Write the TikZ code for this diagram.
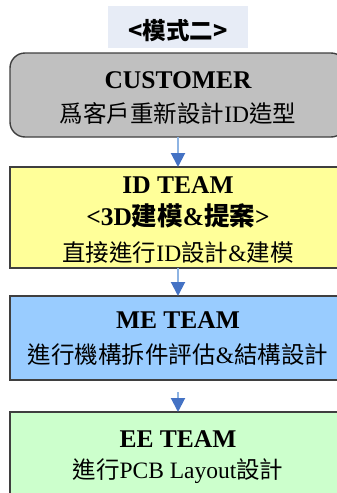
\documentclass[tikz,border=0pt]{standalone}
\usepackage{fontspec}
\setmainfont{Liberation Serif}
\newfontfamily\cjk{Noto Sans CJK TC}
\usetikzlibrary{arrows.meta}
\definecolor{titlebg}{HTML}{E7ECF6}
\definecolor{custfill}{HTML}{C0C0C0}
\definecolor{idfill}{HTML}{FFFF99}
\definecolor{mefill}{HTML}{99CCFF}
\definecolor{eefill}{HTML}{CCFFCC}
\definecolor{boxline}{HTML}{3F3F3F}
\definecolor{shaftblue}{HTML}{8EB4E3}
\definecolor{headblue}{HTML}{4472C4}
\begin{document}
\begin{tikzpicture}[x=1pt,y=-1pt,
  box/.style={draw=boxline,line width=1.4pt,minimum width=336pt,inner sep=0pt,outer sep=0pt},
  bt/.style={anchor=base,inner sep=0pt,font=\fontsize{25.5}{30}\selectfont\bfseries},
  rt/.style={anchor=base,inner sep=0pt,font=\fontsize{23.5}{28}\selectfont},
  flow/.style={draw=shaftblue,line width=2pt,-{Triangle[width=14pt,length=14pt,color=headblue]}}]
\useasboundingbox (0,0) rectangle (337,493);
\clip (0,0) rectangle (337,493);
% title
\node[fill=titlebg,minimum width=140pt,minimum height=42pt,inner sep=0pt] (title) at (178,27) {};
\node[rt] (titletext) at (178,39) {\cjk\bfseries <模式二>};
% boxes
\node[box,fill=custfill,rounded corners=15pt,minimum height=84pt] (cust) at (178,95) {};
\node[box,fill=idfill,minimum height=101pt] (id) at (178,217.5) {};
\node[box,fill=mefill,minimum height=84pt] (me) at (178,338) {};
\node[box,fill=eefill,minimum height=100pt] (ee) at (178,462) {};
% arrows
\draw[flow] (cust.south) -- (id.north);
\draw[flow] (id.south) -- (me.north);
\draw[flow] ([yshift=-12pt]me.south) -- (ee.north);
% texts
\node[bt] (c1) at (178,88) {CUSTOMER};
\node[rt] (c2) at (178,122) {{\cjk 爲客戶重新設計}ID{\cjk 造型}};
\node[bt] (i1) at (178,193) {ID TEAM};
\node[bt] (i2) at (178,225) {<3D{\cjk\bfseries 建模}\&{\cjk\bfseries 提案}>};
\node[rt] (i3) at (178,261) {{\cjk 直接進行}ID{\cjk 設計}\&{\cjk 建模}};
\node[bt] (m1) at (178,328) {ME TEAM};
\node[rt] (m2) at (178,363) {{\cjk 進行機構拆件評估}\&{\cjk 結構設計}};
\node[bt] (e1) at (178,447) {EE TEAM};
\node[rt] (e2) at (178,478) {{\cjk 進行}PCB Layout{\cjk 設計}};
\end{tikzpicture}
\end{document}
